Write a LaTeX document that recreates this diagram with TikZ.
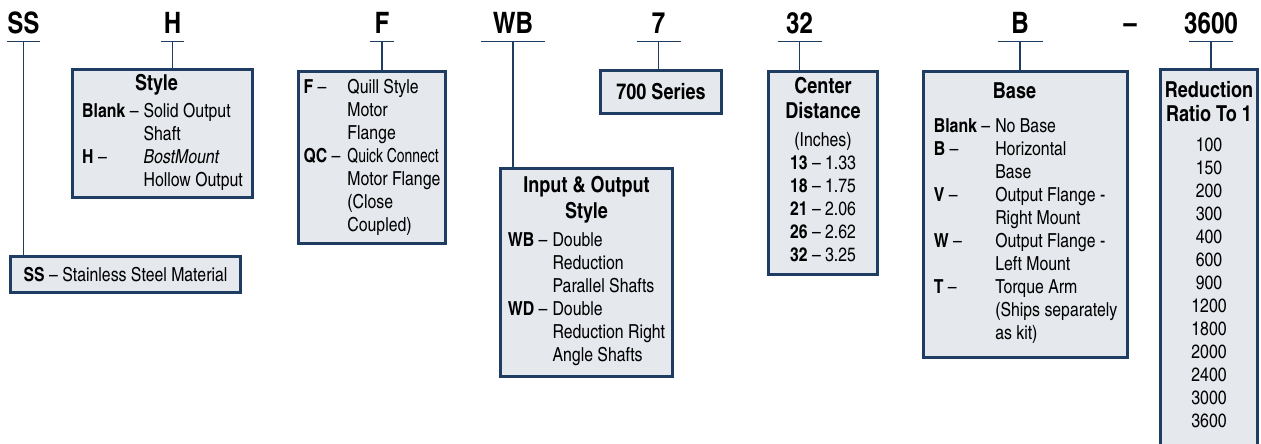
\documentclass[tikz,border=0pt]{standalone}
\usepackage{fontspec}
\setmainfont{texgyreheroscn}[Extension=.otf, UprightFont=*-regular, BoldFont=*-bold, ItalicFont=*-italic, BoldItalicFont=*-bolditalic]
\definecolor{navy}{HTML}{1F3D63}
\definecolor{boxgray}{HTML}{E5E8ED}
\newcommand{\bodyfont}{\fontsize{19.3}{23}\selectfont}
\newcommand{\headfont}{\fontsize{22}{25}\selectfont\bfseries}
\newcommand{\codefont}{\fontsize{29.5}{32}\selectfont\bfseries}
\begin{document}
\begin{tikzpicture}[x=1pt,y=-1pt,
  infobox/.style={draw=navy,line width=2.6pt,fill=boxgray,inner sep=0pt,font=\bodyfont},
  codeword/.style={font=\codefont,anchor=south,text depth=0pt,inner xsep=0pt,inner ysep=7.5pt},
  link/.style={draw=navy,line width=1.4pt}]
\useasboundingbox (0,0) rectangle (1261,444);
\clip (0,0) rectangle (1261,444);
% model code along the top
\node[codeword] (ss) at (23.5,41.5) {SS};
\node[codeword] (h) at (172.5,41.5) {H};
\node[codeword] (f) at (382,41.5) {F};
\node[codeword] (wb) at (513,41.5) {WB};
\node[codeword] (seven) at (658.5,41.5) {7};
\node[codeword] (cd) at (799.5,41.5) {32};
\node[codeword] (base) at (1020,41.5) {B};
\node[codeword] (dash) at (1130,41.5) {–};
\node[codeword] (ratio) at (1211,41.5) {3600};
\foreach \name/\half in {ss/16.5,h/11.5,f/12,wb/32,seven/22,cd/22,base/22.5,ratio/22}
  \draw[link] ([xshift=-\half pt]\name.south) -- ([xshift=\half pt]\name.south);
% boxes
\node[infobox,minimum width=230.4pt,minimum height=36.4pt] (ssbox) at (125.5,274.5)
  {\textbf{SS} – Stainless Steel Material};
\node[infobox,minimum width=180.4pt,minimum height=128.4pt] (hbox) at (162.5,133.5)
  {\begin{tabular}{@{}l@{\hspace{5pt}}l@{}}
   \multicolumn{2}{c}{\headfont Style\hspace{12pt}\mbox{}}\\[4pt]
   \textbf{Blank} – & Solid Output\\
    & Shaft\\
   \textbf{H} – & \textit{BostMount}\\
    & Hollow Output
   \end{tabular}};
\node[infobox,minimum width=147.4pt,minimum height=172.4pt] (fbox) at (372,157.5)
  {\begin{tabular}{@{}l@{\hspace{7pt}}l@{}}
   \textbf{F} – & Quill Style\\
    & Motor\\
    & Flange\\
   \textbf{QC} – & \scalebox{0.88}[1]{Quick Connect}\\
    & Motor Flange\\
    & (Close\\
    & Coupled)
   \end{tabular}};
\node[infobox,minimum width=172.4pt,minimum height=208.4pt] (wbbox) at (586.5,272.5)
  {\begin{tabular}{@{}l@{\hspace{5pt}}l@{}}
   \multicolumn{2}{c}{\headfont Input \& Output}\\[2.5pt]
   \multicolumn{2}{c}{\headfont Style}\\[5pt]
   \textbf{WB} – & Double\\
    & Reduction\\
    & Parallel Shafts\\
   \textbf{WD} – & Double\\
    & Reduction Right\\
    & Angle Shafts
   \end{tabular}};
\node[infobox,minimum width=121.4pt,minimum height=43.4pt] (sevenbox) at (661,92)
  {\headfont 700 Series};
\node[infobox,minimum width=109.4pt,minimum height=203.4pt] (cdbox) at (823,173)
  {\begin{tabular}{@{}c@{}}
   \headfont Center\\[2pt]
   \headfont Distance\\[5pt]
   (Inches)\\
   \textbf{13} – 1.33\\
   \textbf{18} – 1.75\\
   \textbf{21} – 2.06\\
   \textbf{26} – 2.62\\
   \textbf{32} – 3.25
   \end{tabular}};
\node[infobox,minimum width=204.4pt,minimum height=286.4pt] (basebox) at (1025.5,214.5)
  {\begin{tabular}{@{}l@{\hspace{5pt}}l@{}}
   \multicolumn{2}{c}{\headfont Base\hspace{22pt}\mbox{}}\\[11pt]
   \textbf{Blank} – & No Base\\
   \textbf{B} – & Horizontal\\
    & Base\\
   \textbf{V} – & Output Flange -\\
    & Right Mount\\
   \textbf{W} – & Output Flange -\\
    & Left Mount\\
   \textbf{T} – & Torque Arm\\
    & (Ships separately\\
    & as kit)
   \end{tabular}};
\node[infobox,minimum width=97.4pt,minimum height=376.4pt] (ratiobox) at (1209,258)
  {\begin{tabular}{@{}c@{}}
   \headfont Reduction\\[1pt]
   \headfont Ratio To 1\\[7pt]
   100\\ 150\\ 200\\ 300\\ 400\\ 600\\ 900\\ 1200\\ 1800\\ 2000\\ 2400\\ 3000\\ 3600
   \end{tabular}};
% connectors
\foreach \name in {ss,h,f,wb,seven,cd,base,ratio}
  \draw[link] (\name.south) -- (\name.south |- \name box.north);
\end{tikzpicture}
\end{document}
